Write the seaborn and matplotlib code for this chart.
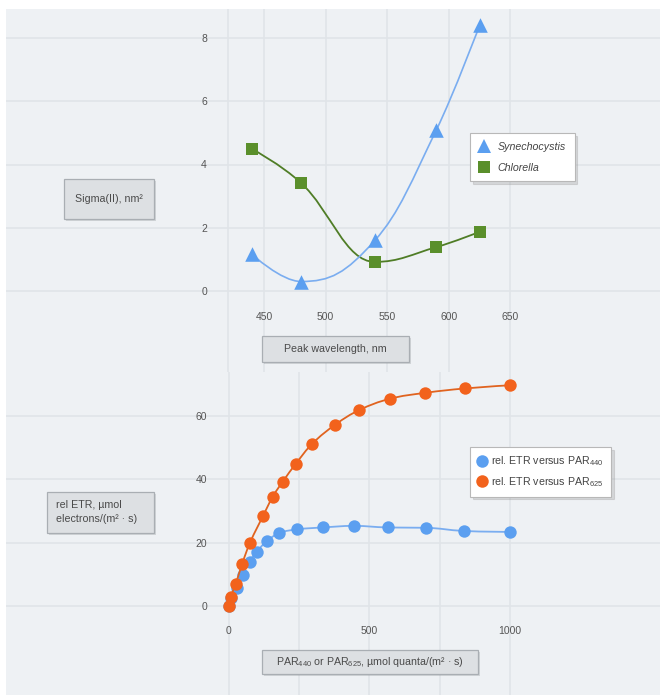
import numpy as np
import pandas as pd
import matplotlib
matplotlib.use("Agg")
import matplotlib.pyplot as plt
import seaborn as sns
from matplotlib.path import Path
from matplotlib.patches import PathPatch, Rectangle
from matplotlib.lines import Line2D

# ---------------- data ----------------
wavelength = [440, 480, 540, 590, 625]
sigma_synechocystis = [1.17, 0.30, 1.60, 5.10, 8.40]
sigma_chlorella = [4.50, 3.42, 0.92, 1.39, 1.87]

par440 = [0, 10, 30, 50, 75, 100, 135, 180, 245, 335, 445, 565, 700, 835, 1000]
etr440 = [0, 2.5, 5.6, 9.8, 14.0, 17.1, 20.4, 23.0, 24.2, 24.8, 25.3, 24.8, 24.7, 23.7, 23.4]
par625 = [0, 8, 25, 48, 76, 123, 157, 193, 239, 297, 380, 463, 572, 698, 840, 1000]
etr625 = [0, 2.9, 6.8, 13.2, 19.9, 28.5, 34.5, 39.3, 44.9, 51.2, 57.3, 61.8, 65.4, 67.3, 68.7, 69.7]

top_xticks = [450, 500, 550, 600, 650]
top_yticks = [0, 2, 4, 6, 8]
bottom_xticks = [0, 500, 1000]
bottom_xminor = [250, 750]
bottom_yticks = [0, 20, 40, 60]

top_series_names = ["Synechocystis", "Chlorella"]
bottom_series_names = ["rel. ETR versus PAR$_{440}$", "rel. ETR versus PAR$_{625}$"]
top_ylabel = "Sigma(II), nm²"
top_xlabel = "Peak wavelength, nm"
bottom_ylabel = "rel ETR, µmol\nelectrons/(m² · s)"
bottom_xlabel = "PAR$_{440}$ or PAR$_{625}$, µmol quanta/(m² · s)"

# ---------------- style ----------------
W, H = 660, 695
PANEL = "#eef1f4"
GRID = "#e0e4e8"
TXT = "#555555"
BLUE = "#5b9ff0"
BLUE_LINE = "#7aadf0"
GREEN = "#5a8f2b"
GREEN_LINE = "#4f7d26"
ORANGE = "#f2621c"
ORANGE_LINE = "#e0631f"
FS = 7.7

plt.rcParams["font.family"] = ["Liberation Sans", "DejaVu Sans"]
plt.rcParams["mathtext.fontset"] = "custom"
plt.rcParams["mathtext.rm"] = "Liberation Sans"
plt.rcParams["mathtext.it"] = "Liberation Sans:italic"
plt.rcParams["mathtext.bf"] = "Liberation Sans:bold"

fig = plt.figure(figsize=(W / 100, H / 100), dpi=100)
fig.patch.set_facecolor("white")


def fx(px):
    return px / W


def fy(py):
    return 1 - py / H


def spline_path(xs, ys):
    """Highcharts-style smooth spline as a Bezier path through the points."""
    n = len(xs)
    lc = [None] * n
    rc = [None] * n
    for i in range(n):
        x, y = xs[i], ys[i]
        if 0 < i < n - 1:
            lx, ly = xs[i - 1], ys[i - 1]
            nx, ny = xs[i + 1], ys[i + 1]
            s, d = 1.5, 2.5
            lcx = (s * x + lx) / d
            lcy = (s * y + ly) / d
            rcx = (s * x + nx) / d
            rcy = (s * y + ny) / d
            if rcx != lcx:
                corr = ((rcy - lcy) * (rcx - x)) / (rcx - lcx) + y - rcy
                lcy += corr
                rcy += corr
                if lcy > ly and lcy > y:
                    lcy = max(ly, y)
                    rcy = 2 * y - lcy
                elif lcy < ly and lcy < y:
                    lcy = min(ly, y)
                    rcy = 2 * y - lcy
                if rcy > ny and rcy > y:
                    rcy = max(ny, y)
                    lcy = 2 * y - rcy
                elif rcy < ny and rcy < y:
                    rcy = min(ny, y)
                    lcy = 2 * y - rcy
            lc[i] = (lcx, lcy)
            rc[i] = (rcx, rcy)
        else:
            lc[i] = (x, y)
            rc[i] = (x, y)
    verts = [(xs[0], ys[0])]
    codes = [Path.MOVETO]
    for i in range(1, n):
        verts += [rc[i - 1], lc[i], (xs[i], ys[i])]
        codes += [Path.CURVE4] * 3
    return Path(verts, codes)


def style_axes(ax, xlim, ylim, ylab_right_px, xlab_top_px, ax_bottom_px):
    ax.set_facecolor(PANEL)
    for sp in ax.spines.values():
        sp.set_visible(False)
    ax.set_xlim(*xlim)
    ax.set_ylim(*ylim)
    ax.tick_params(axis="both", length=0, labelsize=7.5, labelcolor=TXT)
    ax.tick_params(axis="y", pad=-(ylab_right_px - 6) * 0.72)
    ax.tick_params(axis="x", pad=-(ax_bottom_px - xlab_top_px) * 0.72)
    ax.set_xlabel("")
    ax.set_ylabel("")
    ax.set_axisbelow(True)


# ---------------- top chart ----------------
# pixel calibration: x_px = 264 + (nm-450)*1.232 ; y_px = 291 - v*31.625
top_xlim = (450 + (6 - 264) / 1.232, 450 + (660 - 264) / 1.232)
top_ylim = ((291 - 372) / 31.625, (291 - 9) / 31.625)
ax1 = fig.add_axes([fx(6), fy(372), fx(660) - fx(6), fy(9) - fy(372)])
style_axes(ax1, top_xlim, top_ylim, 207, 312, 372)
ax1.set_xticks(top_xticks)
ax1.set_yticks(top_yticks)
ax1.grid(True, axis="both", color=GRID, linewidth=1.2)
ax1.axvline(450 + (228.5 - 264) / 1.232, color=GRID, linewidth=1.2, zorder=0)

df_top = pd.DataFrame({"wavelength": wavelength,
                       "Synechocystis": sigma_synechocystis,
                       "Chlorella": sigma_chlorella})

ax1.add_patch(PathPatch(spline_path(wavelength, sigma_chlorella), fill=False,
                        edgecolor=GREEN_LINE, linewidth=1.3, zorder=2))
sns.scatterplot(data=df_top, x="wavelength", y="Chlorella", marker="s", s=85,
                color=GREEN, edgecolor=GREEN, linewidth=0, ax=ax1, zorder=3)
ax1.add_patch(PathPatch(spline_path(wavelength, sigma_synechocystis), fill=False,
                        edgecolor=BLUE_LINE, linewidth=1.2, zorder=4))
sns.scatterplot(data=df_top, x="wavelength", y="Synechocystis", marker="^", s=110,
                color=BLUE, edgecolor=BLUE, linewidth=0, ax=ax1, zorder=5)
ax1.set_xlabel("")
ax1.set_ylabel("")

h_top = [Line2D([], [], linestyle="none", marker="^", markersize=10, color=BLUE, markeredgewidth=0),
         Line2D([], [], linestyle="none", marker="s", markersize=9, color=GREEN, markeredgewidth=0)]
leg1 = ax1.legend(h_top, top_series_names, loc="upper left",
                  bbox_to_anchor=(fx(470), fy(133)), bbox_transform=fig.transFigure,
                  borderaxespad=0, fontsize=FS, frameon=True, fancybox=False,
                  facecolor="white", edgecolor="#b8b8b8", framealpha=1,
                  shadow={"color": "#999999", "alpha": 0.3},
                  handlelength=1.0, handletextpad=0.8, borderpad=0.8, labelspacing=1.05)
for t in leg1.get_texts():
    t.set_fontstyle("italic")
    t.set_color("#444444")
leg1.get_frame().set_linewidth(0.8)

# ---------------- bottom chart ----------------
# pixel calibration: x_px = 228.5 + v*0.2815 ; y_px = 606 - v*3.1667
bot_xlim = ((6 - 228.5) / 0.2815, (660 - 228.5) / 0.2815)
bot_ylim = ((606 - 695) / 3.1667, (606 - 372) / 3.1667)
ax2 = fig.add_axes([fx(6), fy(695), fx(660) - fx(6), fy(372) - fy(695)])
style_axes(ax2, bot_xlim, bot_ylim, 207, 626, 695)
ax2.set_xticks(bottom_xticks)
ax2.set_xticks(bottom_xminor, minor=True)
ax2.tick_params(axis="x", which="minor", length=0)
ax2.set_yticks(bottom_yticks)
ax2.grid(True, axis="both", which="major", color=GRID, linewidth=1.2)
ax2.grid(True, axis="x", which="minor", color=GRID, linewidth=1.2)

df_b1 = pd.DataFrame({"par": par440, "etr": etr440})
df_b2 = pd.DataFrame({"par": par625, "etr": etr625})

ax2.add_patch(PathPatch(spline_path(par440, etr440), fill=False,
                        edgecolor=BLUE_LINE, linewidth=1.3, zorder=2))
sns.scatterplot(data=df_b1, x="par", y="etr", marker="o", s=80,
                color=BLUE, edgecolor=BLUE, linewidth=0, ax=ax2, zorder=3)
ax2.add_patch(PathPatch(spline_path(par625, etr625), fill=False,
                        edgecolor=ORANGE_LINE, linewidth=1.3, zorder=4))
sns.scatterplot(data=df_b2, x="par", y="etr", marker="o", s=80,
                color=ORANGE, edgecolor=ORANGE, linewidth=0, ax=ax2, zorder=5)
ax2.set_xlabel("")
ax2.set_ylabel("")

h_bot = [Line2D([], [], linestyle="none", marker="o", markersize=9, color=BLUE, markeredgewidth=0),
         Line2D([], [], linestyle="none", marker="o", markersize=9, color=ORANGE, markeredgewidth=0)]
leg2 = ax2.legend(h_bot, bottom_series_names, loc="upper left",
                  bbox_to_anchor=(fx(470), fy(447)), bbox_transform=fig.transFigure,
                  borderaxespad=0, fontsize=FS, frameon=True, fancybox=False,
                  facecolor="white", edgecolor="#b8b8b8", framealpha=1,
                  shadow={"color": "#999999", "alpha": 0.3},
                  handlelength=0.8, handletextpad=0.5, borderpad=0.7, labelspacing=0.65)
for t in leg2.get_texts():
    t.set_color("#444444")
leg2.get_frame().set_linewidth(0.8)


# ---------------- axis-title boxes ----------------
def label_box(x0, y0, x1, y1, text, ha="center", text_x=None):
    shadow = Rectangle((fx(x0 + 2), fy(y1 + 2)), fx(x1) - fx(x0), fy(y0) - fy(y1),
                       transform=fig.transFigure, facecolor="#9a9ea2", alpha=0.35,
                       edgecolor="none", zorder=20)
    box = Rectangle((fx(x0), fy(y1)), fx(x1) - fx(x0), fy(y0) - fy(y1),
                    transform=fig.transFigure, facecolor="#dde0e3",
                    edgecolor="#a9aeb3", linewidth=0.9, zorder=21)
    fig.add_artist(shadow)
    fig.add_artist(box)
    tx = fx(text_x) if text_x is not None else fx((x0 + x1) / 2)
    fig.text(tx, fy((y0 + y1) / 2), text, ha=ha, va="center", fontsize=FS,
             color="#4a4a4a", zorder=22, linespacing=1.5)


label_box(64, 179, 154, 219, top_ylabel)
label_box(262, 336, 409, 362, top_xlabel)
label_box(47, 492, 154, 533, bottom_ylabel, ha="left", text_x=56)
label_box(262, 650, 478, 674, bottom_xlabel)

# white outer border strip (top and left)
fig.add_artist(Rectangle((0, fy(9)), 1, 1 - fy(9), transform=fig.transFigure,
                         facecolor="white", edgecolor="none", zorder=30))
fig.add_artist(Rectangle((0, 0), fx(6), 1, transform=fig.transFigure,
                         facecolor="white", edgecolor="none", zorder=30))

fig.savefig("out.png", dpi=100, facecolor=fig.get_facecolor())
